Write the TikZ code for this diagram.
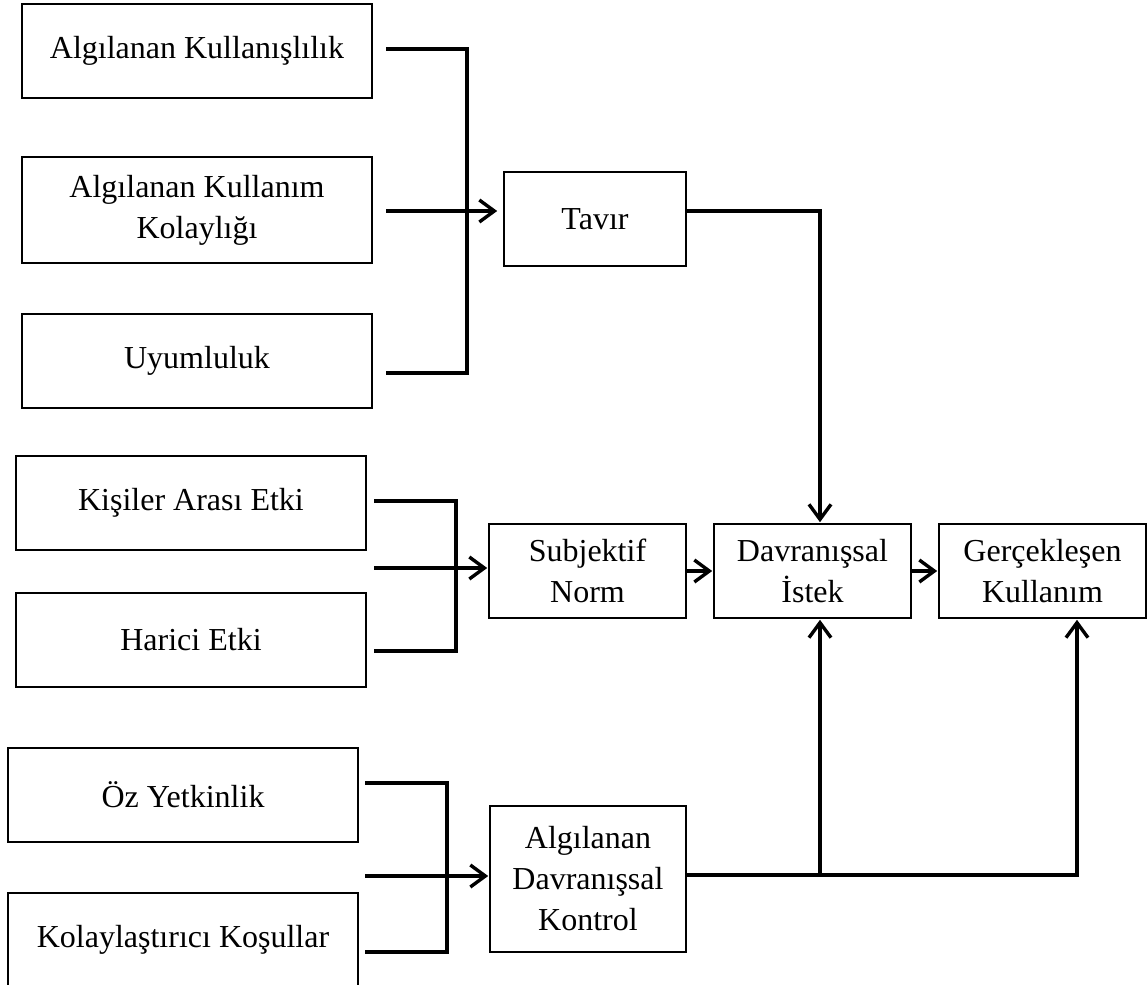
\documentclass[tikz,border=0pt]{standalone}
\usepackage{fontspec}
\setmainfont{Liberation Serif}
\usetikzlibrary{arrows.meta}
\begin{document}
\begin{tikzpicture}[x=0.5pt,y=-0.5pt,
  box/.style={draw,line width=0.8pt,inner sep=0pt,align=center,
    font=\fontsize{16}{20.5}\selectfont,minimum height=47pt},
  wide/.style={box,minimum width=175pt},
  conn/.style={line width=1.7pt,line join=miter},
  arr/.style={conn,-{Straight Barb[length=7.5pt,width=11pt]},shorten >=0.5pt}]
\useasboundingbox (0,0) rectangle (1148,985);

% input constructs
\node[wide] (ak)    at (197,51)  {Algılanan Kullanışlılık};
\node[wide,minimum height=53pt] (akk) at (197,210) {Algılanan Kullanım\\Kolaylığı};
\node[wide] (uy)    at (197,361) {Uyumluluk};
\node[wide] (kae)   at (191,503) {Kişiler Arası Etki};
\node[wide] (he)    at (191,640) {Harici Etki};
\node[wide] (oz)    at (183,795) {Öz Yetkinlik};
\node[wide] (kk)    at (183,940) {Kolaylaştırıcı Koşullar};

% intermediate and outcome constructs
\node[box,minimum width=91pt]   (tavir) at (595,219)   {Tavır};
\node[box,minimum width=98.5pt] (sn)    at (587.5,571) {Subjektif\\Norm};
\node[box,minimum width=98.5pt] (di)    at (812.5,571) {Davranışsal\\İstek};
\node[box,minimum width=103.5pt](gk)    at (1042.5,571){Gerçekleşen\\Kullanım};
\node[box,minimum width=98pt,minimum height=73pt] (adk) at (588,879) {Algılanan\\Davranışsal\\Kontrol};

% bracket ends and junctions
\coordinate (a1) at (386,49);
\coordinate (a2) at (386,211);
\coordinate (a3) at (386,373);
\coordinate (va) at (467,0);
\coordinate (b1) at (374,501);
\coordinate (b2) at (374,568);
\coordinate (b3) at (374,651);
\coordinate (vb) at (456,0);
\coordinate (c1) at (365,783);
\coordinate (c2) at (365,876);
\coordinate (c3) at (365,952);
\coordinate (vc) at (447,0);
\coordinate (bx) at (820,875);
\coordinate (gx) at (1077,875);

% attitude group
\draw[conn] (a1) -- (a1 -| va) -- (a3 -| va) -- (a3);
\draw[arr,shorten >=3pt] (a2) -- (a2 -| tavir.west);
\draw[arr] (a2 -| tavir.east) -| (bx |- di.north);

% subjective norm group
\draw[conn] (b1) -- (b1 -| vb) -- (b3 -| vb) -- (b3);
\draw[arr] (b2) -- (b2 -| sn.west);

% perceived behavioural control group
\draw[conn] (c1) -- (c1 -| vc) -- (c3 -| vc) -- (c3);
\draw[arr] (c2) -- (c2 -| adk.west);

% main chain
\draw[arr] (sn) -- (di);
\draw[arr] (di) -- (gk);
\draw[arr] (adk.east |- bx) -- (gx) -- (gx |- gk.south);
\draw[arr] (bx) -- (bx |- di.south);
\end{tikzpicture}
\end{document}
